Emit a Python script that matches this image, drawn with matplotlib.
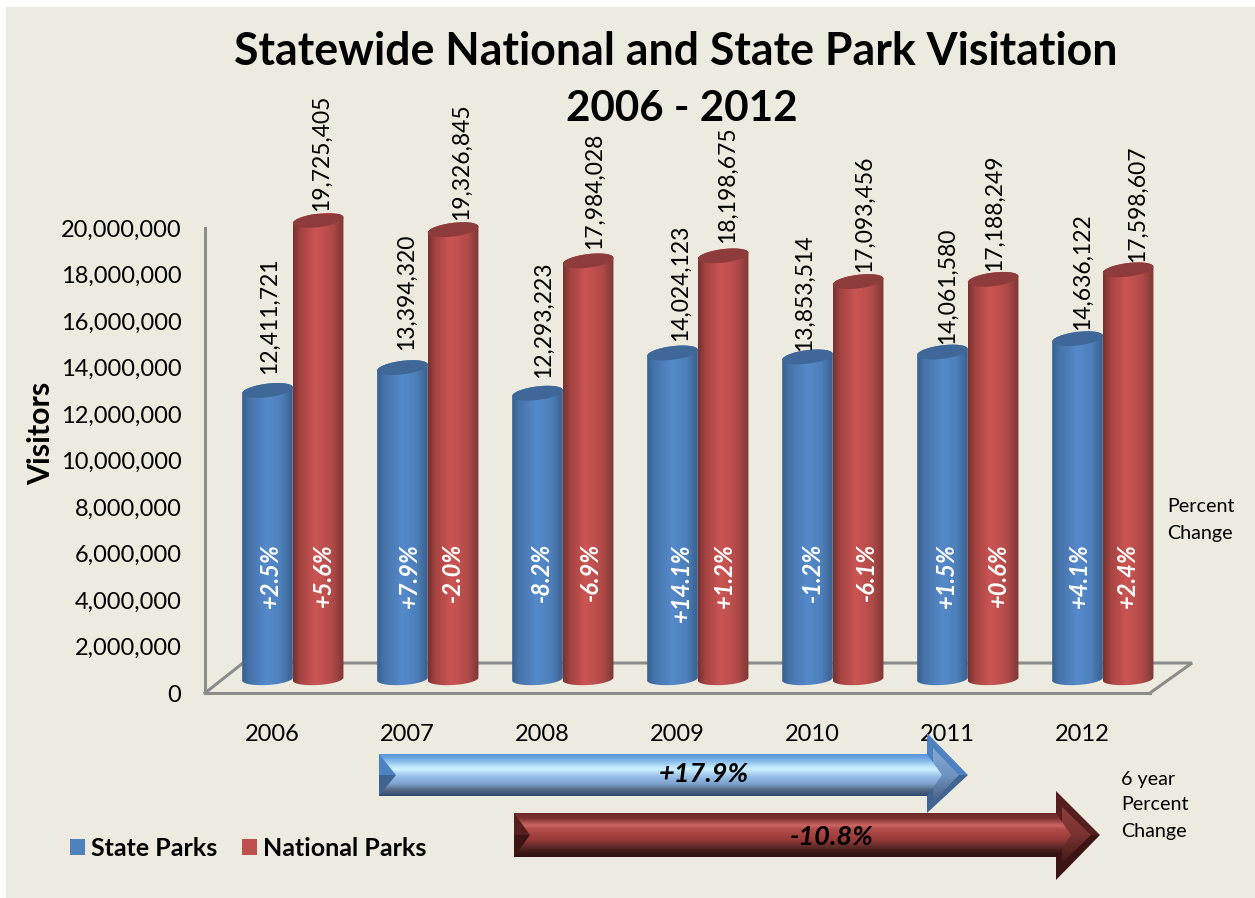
import numpy as np
import matplotlib
matplotlib.use("Agg")
import matplotlib.pyplot as plt
from matplotlib.colors import LinearSegmentedColormap
from matplotlib.patches import Patch, Polygon, Rectangle
from matplotlib.ticker import FuncFormatter

years = ["2006", "2007", "2008", "2009", "2010", "2011", "2012"]
state_parks = [12411721, 13394320, 12293223, 14024123, 13853514, 14061580, 14636122]
national_parks = [19725405, 19326845, 17984028, 18198675, 17093456, 17188249, 17598607]
state_change = ["+2.5%", "+7.9%", "-8.2%", "+14.1%", "-1.2%", "+1.5%", "+4.1%"]
national_change = ["+5.6%", "-2.0%", "-6.9%", "+1.2%", "-6.1%", "+0.6%", "+2.4%"]
state_total_change = "+17.9%"
national_total_change = "-10.8%"

W, H = 1255, 898
BG = "#EDEBE0"
GRAY = "#8C8C8C"
plt.rcParams["font.family"] = ["Lato", "DejaVu Sans"]

fig = plt.figure(figsize=(W / 100, H / 100), dpi=100, facecolor="white")
fig.add_artist(Rectangle((6 / W, 0), 1 - 6 / W, 1 - 7 / H, transform=fig.transFigure,
                         fc=BG, ec="none", zorder=-1))


def px_axes(left, right, top, bottom, **kw):
    return fig.add_axes([left / W, 1 - bottom / H, (right - left) / W, (bottom - top) / H], **kw)


def grad_fill(ax, verts, stops, zorder=3):
    """Fill a polygon with a vertical gradient by clipping an image to it."""
    patch = Polygon(verts, closed=True, fc="none", ec="none", zorder=zorder)
    ax.add_patch(patch)
    cmap = LinearSegmentedColormap.from_list("g", stops)
    ramp = np.linspace(0, 1, 256).reshape(-1, 1)
    xs = [v[0] for v in verts]
    ys = [v[1] for v in verts]
    im = ax.imshow(ramp, cmap=cmap, vmin=0, vmax=1, aspect="auto", zorder=zorder,
                   extent=(min(xs), max(xs), max(ys), min(ys)), interpolation="bilinear")
    im.set_clip_path(patch)


# main axes: wall, floor and tick labels
ax = px_axes(205, 1150, 228, 693)
ax.set_facecolor("none")
ax.set_xlim(-0.5, 6.5)
ax.set_ylim(0, 20000000)
ax.set_xticks(range(len(years)), years)
ax.set_yticks(np.arange(0, 20000001, 2000000))
ax.yaxis.set_major_formatter(FuncFormatter(lambda v, _: f"{int(v):,}"))
ax.tick_params(length=0, labelsize=17, colors="black")
ax.tick_params(axis="y", pad=17)
ax.tick_params(axis="x", pad=22)
for side in ["top", "right"]:
    ax.spines[side].set_visible(False)
for side in ["left", "bottom"]:
    ax.spines[side].set_color(GRAY)
    ax.spines[side].set_linewidth(2.2)
ax.set_ylabel("Visitors", fontsize=21.8, fontweight="bold", labelpad=0)
ax.yaxis.set_label_coords((55 - 205) / 945, (693 - 433) / 465)

# floor outline in screen pixels, 38 right and 30 up for the depth
(fx0, fy0), (fx1, fy1) = ax.transData.transform([(-0.5, 0), (6.5, 0)])
ax.plot([fx0, fx0 + 38, fx1 + 42, fx1], [fy0, fy0 + 30, fy1 + 30, fy1], transform=None,
        color=GRAY, lw=2.2, clip_on=False, solid_joinstyle="miter")

# bars sit on their own axes, shifted back into the depth of the floor
bx = px_axes(225.3, 1170.3, 214, 679)
bx.set_facecolor("none")
bx.axis("off")

UNITS_PER_PX = 20000000 / 465
BLUE_STOPS = [(0, "#38608E"), (0.14, "#4673AA"), (0.5, "#558ACB"), (0.78, "#4D7FBA"), (1, "#3A5F8C")]
RED_STOPS = [(0, "#763130"), (0.14, "#A24341"), (0.45, "#CC5553"), (0.78, "#B04A48"), (1, "#7C3735")]


def cylinder_edge(cx, half_w, y, k_px, b_px, start, stop):
    t = np.linspace(start, stop, 60)
    xs = cx + half_w * np.cos(t)
    ys = y + (b_px * np.sin(t) + k_px * np.cos(t)) * UNITS_PER_PX
    return list(zip(xs, ys))


def draw_cylinder(cx, half_w, value, stops, cap, zorder):
    bottom = cylinder_edge(cx, half_w, 0, 1.5, 6, np.pi, 2 * np.pi)
    top = cylinder_edge(cx, half_w, value, 3, 6.8, 0, np.pi)
    patch = Polygon(bottom + top, closed=True, fc="none", ec="none", zorder=zorder)
    bx.add_patch(patch)
    cmap = LinearSegmentedColormap.from_list("c", stops)
    im = bx.imshow(np.linspace(0, 1, 256).reshape(1, -1), cmap=cmap, aspect="auto",
                   extent=(cx - half_w, cx + half_w, -10 * UNITS_PER_PX, value + 10 * UNITS_PER_PX),
                   zorder=zorder, interpolation="bilinear")
    im.set_clip_path(patch)
    # the base ellipse hangs below the axes box
    im.set_clip_box(fig.bbox)
    bx.add_patch(Polygon(cylinder_edge(cx, half_w, value, 3, 6.8, 0, 2 * np.pi), closed=True,
                         fc=cap, ec="none", zorder=zorder + 0.5))


BAR_W = 0.375
for i in range(len(years)):
    draw_cylinder(i - BAR_W / 2, BAR_W / 2, state_parks[i], BLUE_STOPS, "#3F6797", 2 + i * 0.01)
    draw_cylinder(i + BAR_W / 2, BAR_W / 2, national_parks[i], RED_STOPS, "#8E3C3B", 4 + i * 0.01)

# value labels and year-on-year change, nudged by hand where the cylinders crowd them
state_dx = [2, 4, 6, 8, -3, 5, 5]
state_dy = [16, 18, 15, 12, 6, 8, 9]
national_dx = [3, 8, 6, 4, 6, 1, 9]
national_dy = [9, 10, 12, 13, 10, 8, 8]
state_pct_dx = [3, 7, 4, 9, 5, 4, 2]
national_pct_dx = [5, -1, 2, 1, 8, 5, -1]
PCT_Y = 5850000
for i in range(len(years)):
    for xc, val, dx, dy in [(i - BAR_W / 2, state_parks[i], state_dx[i], state_dy[i]),
                            (i + BAR_W / 2, national_parks[i], national_dx[i], national_dy[i])]:
        bx.annotate(f"{val:,}", (xc, val), xytext=(dx, dy), textcoords="offset pixels",
                    rotation=90, ha="center", va="bottom", fontsize=16.5, zorder=10,
                    annotation_clip=False)
    for xc, lab, dx in [(i - BAR_W / 2, state_change[i], state_pct_dx[i]),
                        (i + BAR_W / 2, national_change[i], national_pct_dx[i])]:
        bx.annotate(lab, (xc, PCT_Y), xytext=(dx, 0), textcoords="offset pixels", rotation=90,
                    ha="center", va="top", fontsize=17, color="white", fontweight="bold",
                    fontstyle="italic", zorder=10)

# overlay in picture pixels for the summary arrows and side notes
ov = px_axes(0, W, 0, H)
ov.set_facecolor("none")
ov.axis("off")


def draw_arrow(x0, x1, hx, top, bot, htop, hbot, body, edge_up, edge_dn, inner, inset):
    mid = (top + bot) / 2
    # head: outer bevel, then the inner face
    ov.add_patch(Polygon([(hx, htop), (x1, mid), (hx, mid)], fc=edge_up, ec="none", zorder=3))
    ov.add_patch(Polygon([(hx, hbot), (x1, mid), (hx, mid)], fc=edge_dn, ec="none", zorder=3))
    grad_fill(ov, [(hx + 6, top - 6), (x1 - 9, mid), (hx + 6, bot + 6)], inner, zorder=3.5)
    # shaft running into the head as a chevron, with a bevelled left end
    grad_fill(ov, [(x0, top), (hx, top), (hx + 15, mid), (hx, bot), (x0, bot)], body, zorder=4)
    ov.add_patch(Polygon([(x0, top), (x0 + inset, mid), (x0, mid)], fc=edge_up, ec="none", zorder=5))
    ov.add_patch(Polygon([(x0, bot), (x0 + inset, mid), (x0, mid)], fc=edge_dn, ec="none", zorder=5))


draw_arrow(379, 968, 927, 754, 796, 733, 813,
           [(0, "#5A93DA"), (0.1, "#6FA6E4"), (0.3, "#BCE6FC"), (0.36, "#CDF1FF"), (0.55, "#95BCE6"),
            (0.72, "#7C9FC8"), (0.85, "#566B88"), (1, "#2E496C")],
           "#4C82C0", "#3F6491", [(0, "#86A9D4"), (0.5, "#6E93C0"), (1, "#4A6080")], 17)
draw_arrow(514, 1100, 1056, 813, 857, 791, 880,
           [(0, "#6E2A28"), (0.12, "#7D3230"), (0.28, "#CC6663"), (0.36, "#B24C4A"), (0.62, "#963836"),
            (0.76, "#5E2C2A"), (0.9, "#3A1816"), (1, "#2C1211")],
           "#541F1E", "#3C1413", [(0, "#8E3E3C"), (0.5, "#7A3230"), (1, "#401A18")], 16)
ov.text(704, 774, state_total_change, ha="center", va="center", fontsize=19.5, fontweight="bold",
        fontstyle="italic", color="black", zorder=8)
ov.text(832, 837, national_total_change, ha="center", va="center", fontsize=19.5, fontweight="bold",
        fontstyle="italic", color="black", zorder=8)

for y, line in zip([507, 533], ["Percent", "Change"]):
    ov.text(1167, y, line, va="center", fontsize=14.2, zorder=8)
for y, line in zip([779, 805, 831], ["6 year", "Percent", "Change"]):
    ov.text(1121, y, line, va="center", fontsize=14.2, zorder=8)

ov.text(676, 52, "Statewide National and State Park Visitation", ha="center", va="center",
        fontsize=32.1, fontweight="bold", zorder=8)
ov.text(682, 109, "2006 - 2012", ha="center", va="center", fontsize=30.3, fontweight="bold", zorder=8)

ov.set_xlim(0, W)
ov.set_ylim(H, 0)
bx.set_xlim(-0.5, 6.5)
bx.set_ylim(0, 20000000)

handles = [Patch(fc="#4F81BD", ec="none", label="State Parks"),
           Patch(fc="#C0504D", ec="none", label="National Parks")]
fig.legend(handles=handles, loc="center left", bbox_to_anchor=(70 / W, 1 - 848 / H), ncol=2,
           frameon=False, borderpad=0, borderaxespad=0,
           handlelength=0.6, handleheight=0.6, handletextpad=0.23, columnspacing=1.0,
           prop={"weight": "bold", "size": 18})

fig.savefig("out.png", dpi=100, facecolor="white")
